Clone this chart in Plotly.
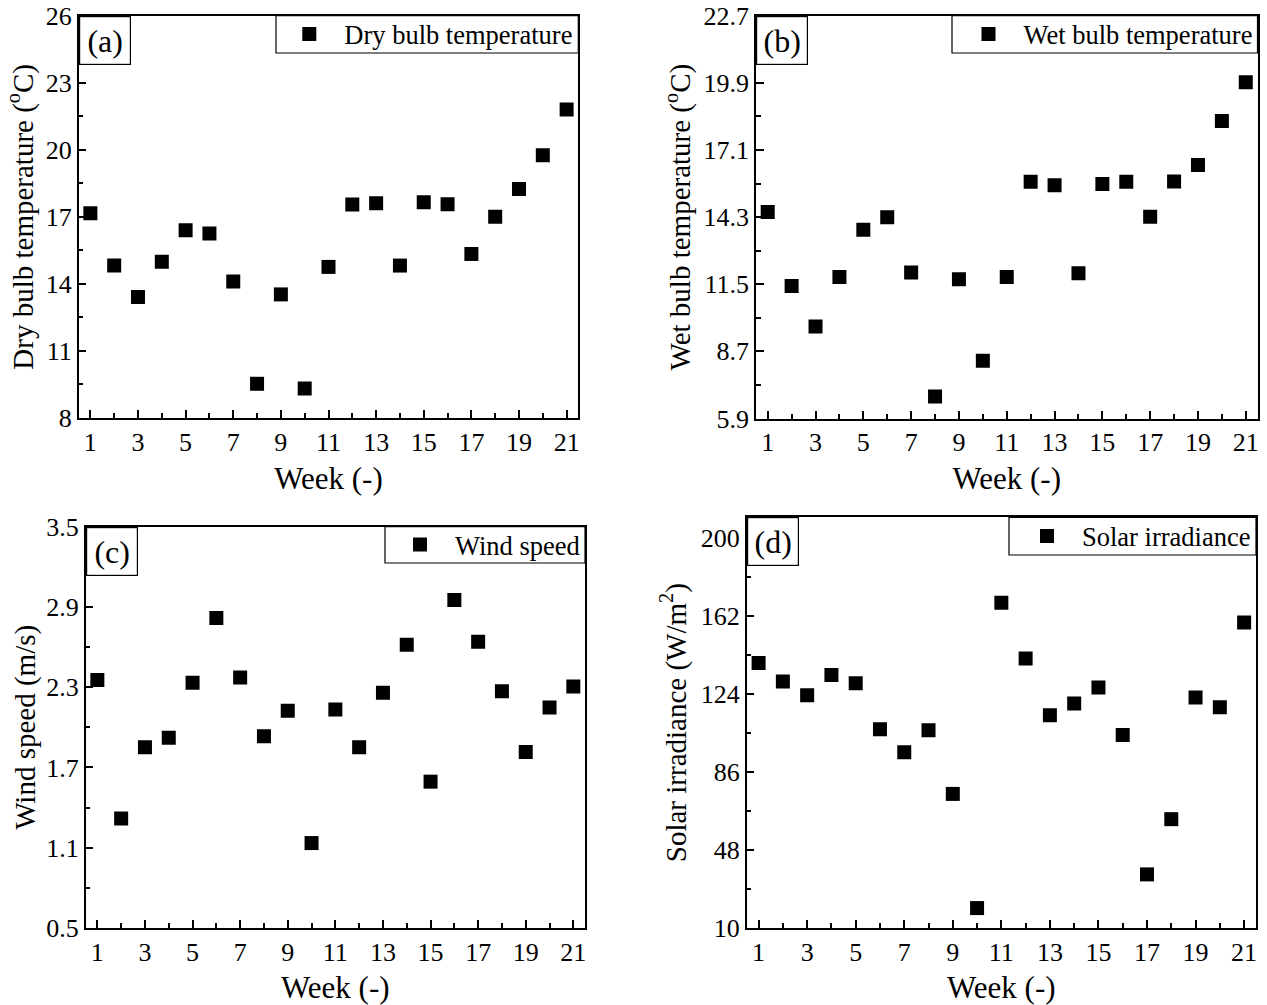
import plotly.graph_objects as go

# Weekly weather records
weeks = list(range(1, 22))
dry_bulb = [17.16, 14.82, 13.41, 14.99, 16.40, 16.25, 14.11, 9.53, 13.53, 9.32, 14.76,
            17.55, 17.61, 14.82, 17.65, 17.56, 15.34, 17.01, 18.25, 19.76, 21.80]
wet_bulb = [14.51, 11.43, 9.74, 11.80, 13.77, 14.29, 11.99, 6.82, 11.71, 8.31, 11.80,
            15.77, 15.63, 11.96, 15.68, 15.77, 14.31, 15.79, 16.47, 18.31, 19.92]
wind_speed = [2.354, 1.319, 1.852, 1.922, 2.334, 2.818, 2.373, 1.934, 2.125, 1.135, 2.133,
              1.852, 2.259, 2.617, 1.594, 2.952, 2.639, 2.269, 1.815, 2.148, 2.306]
solar_irr = [139.0, 130.0, 123.3, 133.2, 129.2, 106.8, 95.6, 106.3, 75.3, 19.7, 168.4,
             141.2, 113.6, 119.3, 127.1, 104.0, 36.1, 63.0, 122.2, 117.5, 158.8]

series_names = ["Dry bulb temperature", "Wet bulb temperature", "Wind speed", "Solar irradiance"]
panel_tags = ["(a)", "(b)", "(c)", "(d)"]
y_titles = ["Dry bulb temperature (<sup>o</sup>C)", "Wet bulb temperature (<sup>o</sup>C)",
            "Wind speed (m/s)", "Solar irradiance (W/m<sup>2</sup>)"]
x_title = "Week (-)"

W, H = 1267, 1005
FONT = "Liberation Serif, Times New Roman, serif"

# plot-area boxes in pixels: (left, top, right, bottom)
boxes = [(78.7, 15.7, 578.3, 418.0),
         (756.0, 15.7, 1257.5, 418.5),
         (85.7, 526.7, 585.0, 928.0),
         (746.7, 517.3, 1256.0, 928.0)]
# legend frames in pixels: (left, bottom)
legend_frames = [(276, 53), (952, 53), (385, 563), (1009, 555)]
# gap between tick labels and the y-axis title, per panel
y_title_gaps = [4, 4, 2, 6]

y_specs = [dict(range=[8, 26], tick0=8, dtick=3, minor=1.5, fmt="d"),
           dict(range=[5.9, 22.7], tick0=5.9, dtick=2.8, minor=1.4, fmt=".1f"),
           dict(range=[0.5, 3.5], tick0=0.5, dtick=0.6, minor=0.3, fmt=".1f"),
           dict(range=[10, 210], tick0=10, dtick=38, minor=19, fmt="d")]

data = [dry_bulb, wet_bulb, wind_speed, solar_irr]

fig = go.Figure()
layout = dict(width=W, height=H, margin=dict(l=0, r=0, t=0, b=0, autoexpand=False),
              paper_bgcolor="white", plot_bgcolor="white",
              font=dict(family=FONT, color="black"), annotations=[], shapes=[])

axis_common = dict(showline=True, linecolor="black", linewidth=1.5, mirror=True,
                   ticks="inside", ticklen=8, tickwidth=1.5, tickcolor="black",
                   showgrid=False, zeroline=False, automargin=False,
                   tickfont=dict(family=FONT, size=26, color="black"))

for i in range(4):
    l, t, r, b = boxes[i]
    xd = [l / W, r / W]
    yd = [1 - b / H, 1 - t / H]
    sfx = "" if i == 0 else str(i + 1)
    leg = "legend" if i == 0 else "legend" + str(i + 1)

    fig.add_trace(go.Scatter(
        x=weeks, y=data[i], mode="markers", name=series_names[i],
        marker=dict(symbol="square", size=14, color="black"),
        xaxis="x" + sfx, yaxis="y" + sfx, legend=leg, showlegend=True))

    layout["xaxis" + sfx] = dict(
        axis_common, domain=xd, anchor="y" + sfx, range=[0.51, 21.49],
        tickmode="linear", tick0=1, dtick=2,
        minor=dict(ticks="inside", ticklen=5, tickwidth=1.5, tickcolor="black",
                   tickmode="linear", tick0=1, dtick=1),
        title=dict(text=x_title, font=dict(family=FONT, size=31, color="black"), standoff=11))

    ys = y_specs[i]
    layout["yaxis" + sfx] = dict(
        axis_common, domain=yd, anchor="x" + sfx, range=ys["range"],
        tickmode="linear", tick0=ys["tick0"], dtick=ys["dtick"], tickformat=ys["fmt"],
        minor=dict(ticks="inside", ticklen=5, tickwidth=1.5, tickcolor="black",
                   tickmode="linear", tick0=ys["tick0"], dtick=ys["minor"]),
        title=dict(text=y_titles[i], font=dict(family=FONT, size=29, color="black"),
                   standoff=y_title_gaps[i]))

    # legend frame drawn as a rectangle in the top-right corner of the panel
    fl, fb = legend_frames[i]
    layout["shapes"].append(dict(
        type="rect", xref="paper", yref="paper",
        x0=fl / W, x1=xd[1], y0=1 - fb / H, y1=yd[1],
        line=dict(color="black", width=1.2), fillcolor="white", layer="above"))

    layout[leg] = dict(x=xd[1], y=1 - (t + fb) / 2 / H, xanchor="right", yanchor="middle",
                       xref="paper", yref="paper",
                       borderwidth=0, bgcolor="rgba(0,0,0,0)",
                       itemwidth=60, font=dict(family=FONT, size=26.5, color="black"))

    layout["annotations"].append(dict(
        text=panel_tags[i], xref="x" + sfx + " domain", yref="y" + sfx + " domain",
        x=0, y=1, xanchor="left", yanchor="top", showarrow=False,
        width=50, height=47, borderpad=0, borderwidth=1.2, bordercolor="black",
        bgcolor="white", font=dict(family=FONT, size=32, color="black")))

fig.update_layout(**layout)
fig.write_html("out.html")
